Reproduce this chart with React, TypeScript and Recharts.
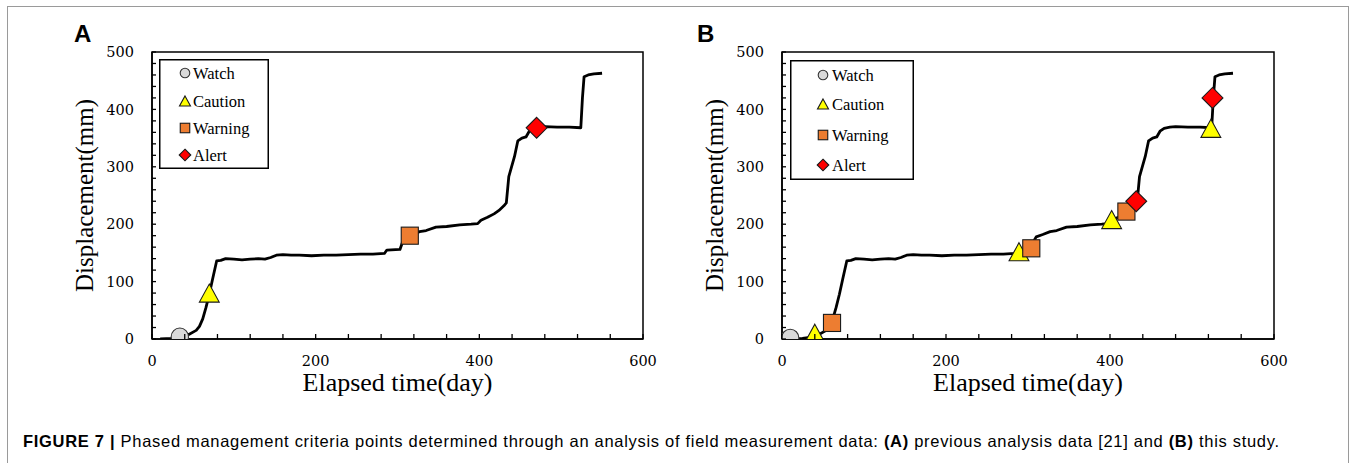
import React from 'react';
import { ComposedChart, Line, Scatter, XAxis, YAxis, ReferenceArea, Label } from 'recharts';

// Displacement curve: [elapsed day, displacement mm]
const curvePoints: [number, number][] = [
  [10, 0], [25, 1], [34, 3], [45, 8], [54, 15], [58, 22], [62, 35], [66, 55], [70, 78], [74, 104],
  [79, 136], [84, 137], [90, 140], [100, 139], [110, 138], [120, 139], [130, 140], [138, 139], [145, 142], [152, 146],
  [160, 147], [170, 146], [180, 146], [195, 145], [210, 146], [225, 146], [240, 147], [255, 148], [270, 148], [284, 149],
  [287, 155], [303, 156], [306, 168], [310, 178], [318, 182], [327, 187], [335, 189], [347, 195], [360, 196], [376, 199],
  [390, 200], [398, 201], [402, 207], [410, 212], [418, 218], [424, 224], [430, 232], [433, 237], [436, 283], [443, 318],
  [447, 345], [452, 350], [457, 352], [461, 362], [466, 367], [473, 369], [480, 370], [495, 369], [510, 369], [524, 368],
  [526, 420], [528, 457], [533, 460], [540, 462], [550, 463],
];

// Panel A markers (previous analysis)
const watchA = [{ day: 34, disp: 4 }];
const cautionA = [{ day: 70, disp: 80 }];
const warningA = [{ day: 315, disp: 180 }];
const alertA = [{ day: 470, disp: 368 }];

// Panel B markers (this study)
const watchB = [{ day: 10, disp: 2 }];
const cautionB = [{ day: 40, disp: 10 }, { day: 289, disp: 152 }, { day: 402, disp: 208 }, { day: 523, disp: 367 }];
const warningB = [{ day: 61, disp: 28 }, { day: 304, disp: 158 }, { day: 420, disp: 222 }];
const alertB = [{ day: 432, disp: 240 }, { day: 525, disp: 420 }];

const xTicks = [0, 40, 80, 120, 160, 200, 240, 280, 320, 360, 400, 440, 480, 520, 560, 600];
const xTickLabels = [0, 200, 400, 600];
const yTicks = [0, 20, 40, 60, 80, 100, 120, 140, 160, 180, 200, 220, 240, 260, 280, 300, 320, 340, 360, 380, 400, 420, 440, 460, 480, 500];
const yTickLabels = [0, 100, 200, 300, 400, 500];
const legendLabels = ['Watch', 'Caution', 'Warning', 'Alert'];
const xTitle = 'Elapsed time(day)';
const yTitle = 'Displacement(mm)';

const curveData = curvePoints.map(([day, disp]) => ({ day, disp }));

const SERIF = '"Liberation Serif", "Times New Roman", serif';
const TICKFONT = '"DejaVu Serif", serif';
const SANS = '"Liberation Sans", Arial, sans-serif';

const COLORS = {
  watch: '#d9d9d9',
  caution: '#ffff00',
  warning: '#ed7d31',
  alert: '#ff0000',
};

type Kind = 'watch' | 'caution' | 'warning' | 'alert';

function Marker({ kind, cx, cy, s }: { kind: Kind; cx: number; cy: number; s: number }) {
  const stroke = '#1a1a1a';
  const sw = 1.1;
  if (kind === 'watch') {
    return <circle cx={cx} cy={cy} r={s * 0.48} fill={COLORS.watch} stroke="#333" strokeWidth={sw} />;
  }
  if (kind === 'caution') {
    const w = s * 1.1;
    const h = s * 1.0;
    return (
      <polygon
        points={`${cx},${cy - h / 2} ${cx + w / 2},${cy + h / 2} ${cx - w / 2},${cy + h / 2}`}
        fill={COLORS.caution}
        stroke={stroke}
        strokeWidth={sw}
      />
    );
  }
  if (kind === 'warning') {
    const a = s * 0.95;
    return <rect x={cx - a / 2} y={cy - a / 2} width={a} height={a} fill={COLORS.warning} stroke={stroke} strokeWidth={sw} />;
  }
  const d = s * 0.58;
  return (
    <polygon
      points={`${cx},${cy - d} ${cx + d},${cy} ${cx},${cy + d} ${cx - d},${cy}`}
      fill={COLORS.alert}
      stroke={stroke}
      strokeWidth={sw}
    />
  );
}

const XTick = (props: any) => {
  const { x, y, payload } = props;
  const v = payload.value;
  return (
    <g>
      <line x1={x} x2={x} y1={y} y2={y - 5} stroke="#000" strokeWidth={1.3} />
      {xTickLabels.includes(v) && (
        <text x={x} y={y + 22} dy="0.36em" textAnchor="middle" fontFamily={TICKFONT} fontSize={14.5} fill="#000">
          {v}
        </text>
      )}
    </g>
  );
};

const YTick = (props: any) => {
  const { x, y, payload } = props;
  const v = payload.value;
  return (
    <g>
      <line x1={x} x2={x + 4} y1={y} y2={y} stroke="#000" strokeWidth={1.3} />
      {yTickLabels.includes(v) && (
        <text x={x - 18} y={y} dy="0.36em" textAnchor="end" fontFamily={TICKFONT} fontSize={14.5} fill="#000">
          {v}
        </text>
      )}
    </g>
  );
};

const XTitle = (props: any) => {
  const vb = props.viewBox || {};
  return (
    <text x={vb.x + vb.width / 2} y={vb.y + 52} textAnchor="middle" fontFamily={SERIF} fontSize={26} fill="#000">
      {xTitle}
    </text>
  );
};

const YTitle = (props: any) => {
  const vb = props.viewBox || {};
  const cx = vb.x + vb.width - 59;
  const cy = vb.y + vb.height / 2;
  return (
    <text x={cx} y={cy} transform={`rotate(-90 ${cx} ${cy})`} textAnchor="middle" fontFamily={SERIF} fontSize={25} fill="#000">
      {yTitle}
    </text>
  );
};

type PanelProps = {
  width: number;
  yAxisWidth: number;
  marginRight: number;
  watch: { day: number; disp: number }[];
  caution: { day: number; disp: number }[];
  warning: { day: number; disp: number }[];
  alert: { day: number; disp: number }[];
  size: number;
};

function Panel({ width, yAxisWidth, marginRight, watch, caution, warning, alert, size }: PanelProps) {
  const shape = (kind: Kind) => (p: any) => <Marker kind={kind} cx={p.cx} cy={p.cy} s={size} />;
  return (
    <ComposedChart width={width} height={400} margin={{ top: 52, right: marginRight, bottom: 0, left: 0 }}>
      <XAxis
        type="number"
        dataKey="day"
        domain={[0, 600]}
        ticks={xTicks}
        interval={0}
        allowDataOverflow
        height={61}
        tickSize={0}
        tickMargin={0}
        tickLine={false}
        tick={XTick}
        axisLine={{ stroke: '#000', strokeWidth: 1.5 }}
      >
        <Label content={XTitle} />
      </XAxis>
      <YAxis
        type="number"
        dataKey="disp"
        domain={[0, 500]}
        ticks={yTicks}
        interval={0}
        allowDataOverflow
        width={yAxisWidth}
        tickSize={0}
        tickMargin={0}
        tickLine={false}
        tick={YTick}
        axisLine={{ stroke: '#000', strokeWidth: 1.5 }}
      >
        <Label content={YTitle} />
      </YAxis>
      <ReferenceArea x1={0} x2={600} y1={0} y2={500} fill="none" stroke="#000" strokeWidth={1.5} ifOverflow="visible" />
      <Line
        data={curveData}
        dataKey="disp"
        type="linear"
        stroke="#000"
        strokeWidth={2.8}
        strokeLinejoin="round"
        dot={false}
        activeDot={false}
        isAnimationActive={false}
      />
      <Scatter data={watch} dataKey="disp" shape={shape('watch')} isAnimationActive={false} />
      <Scatter data={caution} dataKey="disp" shape={shape('caution')} isAnimationActive={false} />
      <Scatter data={warning} dataKey="disp" shape={shape('warning')} isAnimationActive={false} />
      <Scatter data={alert} dataKey="disp" shape={shape('alert')} isAnimationActive={false} />
    </ComposedChart>
  );
}

function LegendBox({ left, top, width, height, markerX, textX, rows }: any) {
  const kinds: Kind[] = ['watch', 'caution', 'warning', 'alert'];
  return (
    <g transform={`translate(${left},${top})`}>
      <rect x={0.75} y={0.75} width={width - 1.5} height={height - 1.5} fill="#fff" stroke="#000" strokeWidth={1.5} />
      {kinds.map((k, i) => (
        <g key={k}>
          <Marker kind={k} cx={markerX} cy={rows[i]} s={10} />
          <text x={textX} y={rows[i] + 5.5} fontFamily={SERIF} fontSize={16.5} fill="#000">
            {legendLabels[i]}
          </text>
        </g>
      ))}
    </g>
  );
}

export default function App() {
  return (
    <div style={{ position: 'absolute', left: 0, top: 0, width: 1356, height: 463, overflow: 'hidden', background: '#fff' }}>
      <div style={{ position: 'absolute', left: 0, top: 0 }}>
        <Panel width={660} yAxisWidth={152} marginRight={17} watch={watchA} caution={cautionA} warning={warningA} alert={alertA} size={18} />
      </div>
      <div style={{ position: 'absolute', left: 660, top: 0 }}>
        <Panel width={696} yAxisWidth={122} marginRight={82} watch={watchB} caution={cautionB} warning={warningB} alert={alertB} size={18} />
      </div>
      <svg width={1356} height={463} style={{ position: 'absolute', left: 0, top: 0, pointerEvents: 'none' }}>
        <rect x={7.5} y={6.5} width={1341} height={520} fill="none" stroke="#9a9a9a" strokeWidth={1} />
        <text x={74} y={42} fontFamily={SANS} fontWeight="bold" fontSize={24} fill="#000">A</text>
        <text x={697} y={42} fontFamily={SANS} fontWeight="bold" fontSize={24} fill="#000">B</text>
        <LegendBox left={159} top={59} width={110} height={110} markerX={26} textX={34} rows={[14, 42, 69, 96]} />
        <LegendBox left={790} top={60} width={124} height={120} markerX={33} textX={42} rows={[15, 44, 75, 105]} />
        <text x={23} y={447} fontFamily={SANS} fontSize={16.5} fill="#000" style={{ letterSpacing: '0.7px' }}>
          <tspan fontWeight="bold">FIGURE 7 | </tspan>
          <tspan>Phased management criteria points determined through an analysis of field measurement data: </tspan>
          <tspan fontWeight="bold">(A)</tspan>
          <tspan> previous analysis data [21] and </tspan>
          <tspan fontWeight="bold">(B)</tspan>
          <tspan> this study.</tspan>
        </text>
      </svg>
    </div>
  );
}
